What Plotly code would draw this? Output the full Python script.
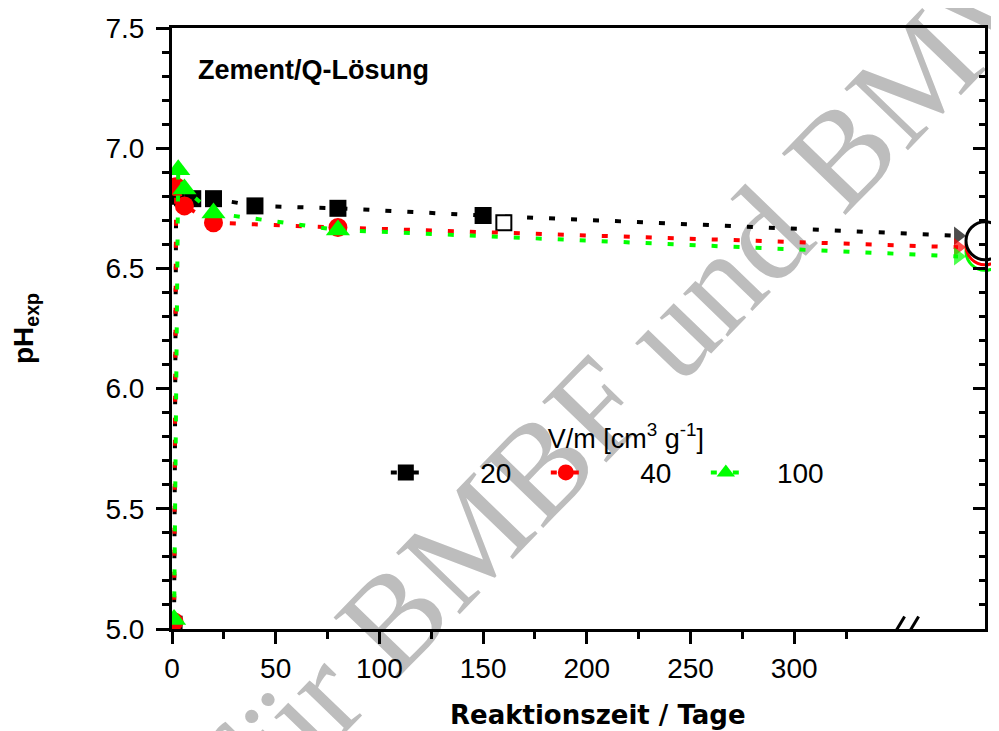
import plotly.graph_objects as go

# ---------------- data ----------------
# V/m = 20 cm3/g  (black squares)
t_20 = [1, 2, 10, 20, 40, 80, 150]
ph_20 = [5.02, 6.80, 6.79, 6.79, 6.76, 6.75, 6.72]
# additional open square (V/m = 20)
t_20_open = [160]
ph_20_open = [6.69]
# V/m = 40 cm3/g  (red circles)
t_40 = [1, 2, 6, 20, 80]
ph_40 = [5.03, 6.84, 6.76, 6.69, 6.67]
# V/m = 100 cm3/g (green triangles)
t_100 = [1, 3, 6, 20, 80]
ph_100 = [5.04, 6.91, 6.83, 6.73, 6.66]

# trend continuation towards the long-term value (arrow tips)
t_arrow = 379
ph_arrow_20, ph_arrow_40, ph_arrow_100 = 6.636, 6.588, 6.550
# long-term values plotted behind the axis break (right edge)
t_longterm = 392
ph_long_20, ph_long_40, ph_long_100 = 6.615, 6.594, 6.571

series_names = ["20", "40", "100"]
x_ticks = [0, 50, 100, 150, 200, 250, 300]
x_minor = [25, 75, 125, 175, 225, 275, 325]
y_ticks = [5.0, 5.5, 6.0, 6.5, 7.0, 7.5]
x_break = 353
x_max = 392

# ---------------- style ----------------
BLACK, RED, GREEN = "#000000", "#ff0000", "#00ff00"
DASH = "6px,16px"
LW = 4
FONT = "Liberation Sans, Arial, sans-serif"
pads = ["\u00a0" * 7, "\u00a0" * 7, "\u00a0" * 4]

fig = go.Figure()

def add_series(t, ph, color, symbol, size, name, ph_arrow, pad):
    # continuation line to the arrow
    fig.add_trace(go.Scatter(
        x=[t[-1], t_arrow], y=[ph[-1], ph_arrow], mode="lines+markers",
        line=dict(color=color, width=LW, dash=DASH),
        marker=dict(symbol="triangle-right", size=[0, 16], color=color,
                    line=dict(width=0)),
        showlegend=False, hoverinfo="skip"))
    fig.add_trace(go.Scatter(
        x=t, y=ph, mode="lines+markers", name=pad + name,
        line=dict(color=color, width=LW, dash=DASH),
        marker=dict(symbol=symbol, size=size, color=color, line=dict(width=0))))

add_series(t_20, ph_20, BLACK, "square", 17, series_names[0], ph_arrow_20, pads[0])
fig.add_trace(go.Scatter(
    x=t_20_open, y=ph_20_open, mode="markers", showlegend=False,
    marker=dict(symbol="square", size=15, color="white",
                line=dict(color=BLACK, width=2))))
add_series(t_40, ph_40, RED, "circle", 19, series_names[1], ph_arrow_40, pads[1])
add_series(t_100, ph_100, GREEN, "triangle-up", 21, series_names[2], ph_arrow_100, pads[2])

# long-term values (open circles on the right edge)
for ph_l, col in [(ph_long_100, GREEN), (ph_long_40, RED), (ph_long_20, BLACK)]:
    fig.add_trace(go.Scatter(
        x=[t_longterm], y=[ph_l], mode="markers", showlegend=False,
        yaxis="y2", cliponaxis=False,
        marker=dict(symbol="circle", size=38, color="white",
                    line=dict(color=col, width=3))))

axis_common = dict(showgrid=False, zeroline=False, linecolor="black",
                   linewidth=3, tickcolor="black", tickwidth=2.5,
                   automargin=False)

fig.update_layout(
    width=999, height=731,
    margin=dict(l=164, r=22, t=20, b=110, autoexpand=False),
    paper_bgcolor="white", plot_bgcolor="white",
    font=dict(family=FONT, size=28, color="black"),
    xaxis=dict(range=[0, x_max], tickmode="array", tickvals=x_ticks,
               ticks="outside", ticklen=12, mirror=True, showline=True,
               minor=dict(tickmode="array", tickvals=x_minor, ticks="outside",
                          ticklen=7, tickwidth=2.5, tickcolor="black"),
               **axis_common),
    yaxis=dict(range=[5.0, 7.5], tickmode="array", tickvals=y_ticks,
               tickformat=".1f", ticks="outside", ticklen=13, showline=True,
               mirror=True, ticklabelstandoff=6,
               minor=dict(dtick=0.1, ticks="outside", ticklen=7,
                          tickwidth=2.5, tickcolor="black"),
               title=dict(text="<b>pH<sub>exp</sub></b>", standoff=66,
                          font=dict(size=28)),
               **axis_common),
    yaxis2=dict(range=[5.0, 7.5], overlaying="y", side="right",
                tickmode="array", tickvals=y_ticks, showticklabels=False,
                ticks="inside", ticklen=12, showline=False,
                minor=dict(dtick=0.1, ticks="inside", ticklen=6,
                           tickwidth=2.5, tickcolor="black"),
                showgrid=False, zeroline=False, tickcolor="black",
                tickwidth=2.5, automargin=False),
    legend=dict(orientation="h", x=0.263, xanchor="left", y=0.36,
                yanchor="top", bgcolor="rgba(0,0,0,0)",
                font=dict(size=28), entrywidth=115, entrywidthmode="pixels",
                title=dict(text="V/m [cm<sup>3</sup> g<sup>-1</sup>]",
                           side="top center", font=dict(size=27))),
)

# axis title (slightly off-centre as in the reference)
fig.add_annotation(text="<b>Reaktionszeit / Tage</b>", xref="paper",
                   yref="paper", x=0.524, y=-0.143, showarrow=False,
                   xanchor="center", yanchor="middle",
                   font=dict(family="DejaVu Sans, sans-serif", size=26))
# panel label
fig.add_annotation(text="<b>Zement/Q-Lösung</b>", xref="paper", yref="paper",
                   x=0.03, y=0.930, showarrow=False, xanchor="left",
                   yanchor="middle", font=dict(size=27))

# axis break marks "//"
fig.add_shape(type="rect", xref="x", yref="y", xsizemode="pixel",
              ysizemode="pixel", xanchor=x_break, yanchor=5.0,
              x0=-6, x1=7, y0=-3, y1=3, fillcolor="white",
              line=dict(width=0), layer="above")
for dx in (-7, 7):
    fig.add_shape(type="line", xref="x", yref="y", xsizemode="pixel",
                  ysizemode="pixel", xanchor=x_break, yanchor=5.0,
                  x0=dx - 7.5, x1=dx + 7.5, y0=-12.5, y1=12.5,
                  line=dict(color="black", width=3), layer="above")

# watermark (behind the data)
fig.add_shape(type="rect", xref="paper", yref="paper",
              x0=0.562, x1=0.582, y0=0.465, y1=0.485,
              line=dict(width=0), fillcolor="rgba(0,0,0,0)", layer="below",
              label=dict(text="für BMBF und BMWi", textangle=-46,
                         textposition="middle center",
                         font=dict(family="Liberation Serif, Times New Roman, serif",
                                   size=135, color="#bdbdbd")))

fig.write_html("out.html")
